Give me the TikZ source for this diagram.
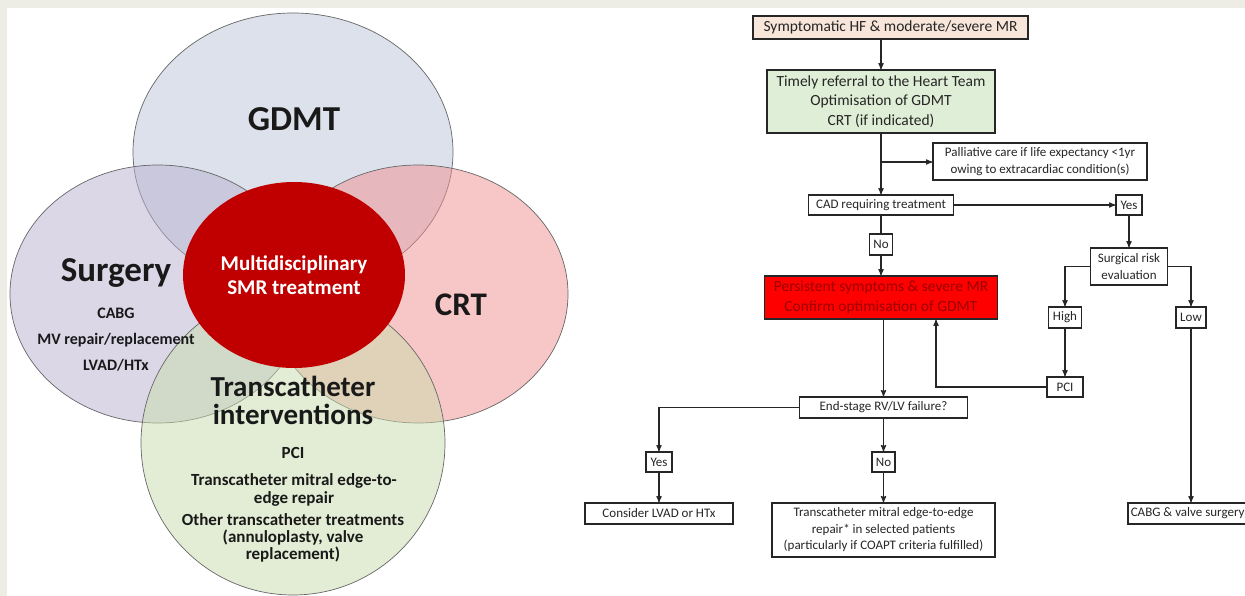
\documentclass[tikz,border=0pt]{standalone}
\usepackage{fontspec}
\setmainfont{Carlito}
\usetikzlibrary{arrows}

\definecolor{bgbeige}{HTML}{EDEDE5}
\definecolor{gdmtc}{HTML}{BBC5D9}
\definecolor{surgc}{HTML}{B9B1D1}
\definecolor{crtc}{HTML}{F19191}
\definecolor{tavic}{HTML}{C9DDAD}
\definecolor{corec}{HTML}{C00000}
\definecolor{peach}{HTML}{F8E6DA}
\definecolor{lgreen}{HTML}{DFEED6}
\definecolor{alarm}{HTML}{FF0000}
\definecolor{darkred}{HTML}{9B0000}

\begin{document}
\begin{tikzpicture}[x=1pt,y=-1pt,>=stealth',
    venn/.style={draw=black!60, line width=0.7pt, fill opacity=0.5},
    vhead/.style={anchor=base, text=black!90, font=\fontsize{35}{36}\selectfont\bfseries},
    vitem/.style={anchor=base, align=center, text=black!90, font=\fontsize{16}{17.5}\selectfont\bfseries},
    fbox/.style={draw=black!85, line width=1.6pt, inner sep=0pt, align=center, text=black!85, font=\fontsize{13}{16.5}\selectfont},
    bigbox/.style={fbox, font=\fontsize{15.5}{19.5}\selectfont},
    conn/.style={draw=black!85, line width=1.2pt}]

    \useasboundingbox (0,0) rectangle (1245,596);
    \clip (0,0) rectangle (1245,596);
    \fill[bgbeige] (0,0) rectangle (1245,596);
    \fill[white] (7,8) rectangle (1245,596);

    % venn part
    \draw[venn, fill=gdmtc] (293,152) ellipse [x radius=160pt, y radius=139pt];
    \draw[venn, fill=surgc] (158,294) ellipse [x radius=148pt, y radius=129pt];
    \draw[venn, fill=crtc]  (418,294) ellipse [x radius=150pt, y radius=129pt];
    \draw[venn, fill=tavic] (293,443) ellipse [x radius=152pt, y radius=152pt];
    \fill[corec] (294,275) ellipse [x radius=111pt, y radius=93pt];

    \node[vhead] (gdmt) at (294,131) {GDMT};
    \node[vhead] (surgery) at (116,281) {Surgery};
    \node[vhead, font=\fontsize{33}{34}\selectfont\bfseries] (crt) at (461,315) {CRT};
    \node[vitem, text=white, font=\fontsize{21}{24}\selectfont\bfseries] (core) at (294,294) {Multidisciplinary\\SMR treatment};
    \node[vitem] (cabgv) at (116,318) {CABG};
    \node[vitem] (mv) at (116,344) {MV repair/replacement};
    \node[vitem] (lvadv) at (116,370) {LVAD/HTx};
    \node[vitem, font=\fontsize{29}{28}\selectfont\bfseries] (tavi) at (293,424) {Transcatheter\\interventions};
    \node[vitem, font=\fontsize{17}{18}\selectfont\bfseries] (pciv) at (293,458) {PCI};
    \node[vitem, font=\fontsize{17}{18}\selectfont\bfseries] (teerv) at (294,503) {Transcatheter mitral edge-to-\\edge repair};
    \node[vitem, font=\fontsize{17}{17}\selectfont\bfseries] (other) at (293,559) {Other transcatheter treatments\\(annuloplasty, valve\\replacement)};

    % flow chart
    \node[bigbox, fill=peach, minimum width=275pt, minimum height=23pt] (sym) at (890.5,27.5) {Symptomatic HF \& moderate/severe MR};
    \node[bigbox, fill=lgreen, minimum width=228pt, minimum height=63pt] (team) at (881,101.5) {Timely referral to the Heart Team\\Optimisation of GDMT\\CRT (if indicated)};
    \node[fbox, minimum width=214pt, minimum height=37pt] (pall) at (1040,161.5) {Palliative care if life expectancy <1yr\\owing to extracardiac condition(s)};
    \node[fbox, minimum width=145pt, minimum height=20pt] (cad) at (881,205) {CAD requiring treatment};
    \node[fbox, minimum width=26pt, minimum height=20pt] (yesA) at (1129,205) {Yes};
    \node[fbox, minimum width=23pt, minimum height=21pt] (noA) at (881,244.5) {No};
    \node[bigbox, fill=alarm, text=darkred, minimum width=233pt, minimum height=43pt] (persist) at (881,297.5) {Persistent symptoms \& severe MR\\Confirm optimisation of GDMT};
    \node[fbox, minimum width=77pt, minimum height=37pt] (risk) at (1129,266.5) {Surgical risk\\evaluation};
    \node[fbox, minimum width=33pt, minimum height=21pt] (high) at (1065,317.5) {High};
    \node[fbox, minimum width=30pt, minimum height=21pt] (low) at (1191,317.5) {Low};
    \node[fbox, minimum width=36pt, minimum height=20pt] (pci) at (1065,387) {PCI};
    \node[fbox, minimum width=168pt, minimum height=21pt] (endst) at (883.5,407.5) {End-stage RV/LV failure?};
    \node[fbox, minimum width=26pt, minimum height=20pt] (yesB) at (659,462) {Yes};
    \node[fbox, minimum width=23pt, minimum height=20pt] (noB) at (883.5,462) {No};
    \node[fbox, minimum width=148pt, minimum height=21pt] (lvad) at (659,513.5) {Consider LVAD or HTx};
    \node[fbox, minimum width=223pt, minimum height=54pt] (teer) at (883.5,530) {Transcatheter mitral edge-to-edge\\repair* in selected patients\\(particularly if COAPT criteria fulfilled)};
    \node[fbox, anchor=west, minimum height=21pt, inner xsep=3pt] (cabg) at (1127,513.5) {CABG \& valve surgery};

    \coordinate (split) at (881,162);
    \coordinate (back) at (936,0);

    \draw[conn,->] (sym.south -| team.north) -- (team.north);
    \draw[conn,->] (team.south) -- (cad.north);
    \draw[conn,->] (split) -- (split -| pall.west);
    \draw[conn,->] (cad.east) -- (yesA.west);
    \draw[conn] (cad.south) -- (noA.north);
    \draw[conn,->] (noA.south) -- (persist.north);
    \draw[conn,->] (yesA.south) -- (risk.north);
    \draw[conn,->] (risk.west) -| (high.north);
    \draw[conn,->] (risk.east) -| (low.north);
    \draw[conn,->] (high.south) -- (pci.north);
    \draw[conn,->] (pci.west) -| (persist.south -| back);
    \draw[conn,->] (persist.south -| endst.north) -- (endst.north);
    \draw[conn,->] (endst.west) -| (yesB.north);
    \draw[conn,->] (endst.south) -- (noB.north);
    \draw[conn,->] (yesB.south) -- (lvad.north);
    \draw[conn,->] (noB.south) -- (teer.north);
    \draw[conn,->] (low.south) -- (low.south |- cabg.north);

\end{tikzpicture}
\end{document}
